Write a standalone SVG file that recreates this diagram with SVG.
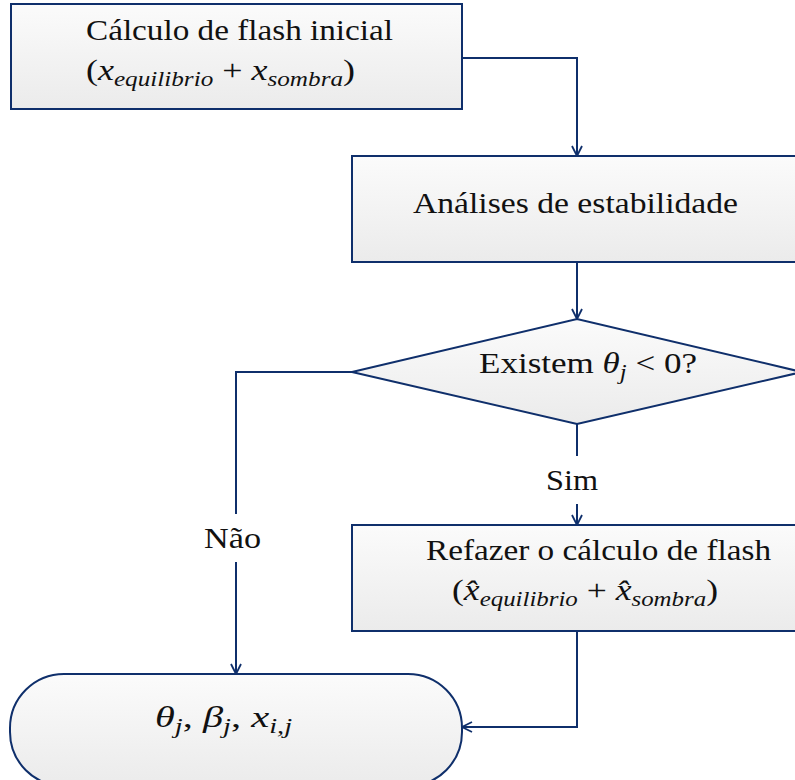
<svg xmlns="http://www.w3.org/2000/svg" width="795" height="780" viewBox="0 0 795 780">
<defs>
<linearGradient id="g" x1="0" y1="0" x2="0" y2="1">
<stop offset="0" stop-color="#fbfbfb"/>
<stop offset="1" stop-color="#ebebeb"/>
</linearGradient>
<marker id="arr" viewBox="0 0 12 12" refX="11" refY="6" markerWidth="12" markerHeight="12" markerUnits="userSpaceOnUse" orient="auto">
<path d="M1,1 L11,6 L1,11" fill="none" stroke="#0f2f6b" stroke-width="1.8"/>
</marker>
</defs>
<style>
.n{fill:url(#g);stroke:#0f2f6b;stroke-width:2}
.c{fill:none;stroke:#0f2f6b;stroke-width:2;marker-end:url(#arr)}
text{font-family:"Liberation Serif","DejaVu Serif",serif;font-size:30px;fill:#111}
.i{font-style:italic}
.s{font-size:21px;font-style:italic}
.lb{fill:#fff}
</style>
<g id="connectors">
<path class="c" d="M462,58 H577 V156"/>
<path class="c" d="M577,262 V319"/>
<path class="c" d="M577,424 V525"/>
<path class="c" d="M352,372 H236 V674"/>
<path class="c" d="M577,631 V727 H462"/>
<rect class="lb" x="543" y="456" width="68" height="48"/>
<text x="546" y="490" textLength="52" lengthAdjust="spacingAndGlyphs">Sim</text>
<rect class="lb" x="196" y="514" width="80" height="48"/>
<text x="204" y="548" textLength="57" lengthAdjust="spacingAndGlyphs">Não</text>
</g>
<g id="flash-inicial">
<rect class="n" x="11" y="4" width="451" height="105"/>
<text x="86" y="40" textLength="307" lengthAdjust="spacingAndGlyphs">Cálculo de flash inicial</text>
<text x="86" y="80" textLength="269" lengthAdjust="spacingAndGlyphs">(<tspan class="i">x</tspan><tspan class="s" dy="6">equilibrio</tspan><tspan dy="-6"> + </tspan><tspan class="i">x</tspan><tspan class="s" dy="6">sombra</tspan><tspan dy="-6">)</tspan></text>
</g>
<g id="estabilidade">
<rect class="n" x="352" y="156" width="450" height="106"/>
<text x="413" y="213" textLength="325" lengthAdjust="spacingAndGlyphs">Análises de estabilidade</text>
</g>
<g id="decisao">
<polygon class="n" points="352,372 577,319 802,372 577,424"/>
<text x="479" y="373" textLength="218" lengthAdjust="spacingAndGlyphs">Existem <tspan class="i">θ</tspan><tspan class="s" dy="6">j</tspan><tspan dy="-6"> &lt; 0?</tspan></text>
</g>
<g id="refazer">
<rect class="n" x="352" y="525" width="450" height="106"/>
<text x="426" y="560" textLength="345" lengthAdjust="spacingAndGlyphs">Refazer o cálculo de flash</text>
<text x="452" y="600" textLength="266" lengthAdjust="spacingAndGlyphs">(<tspan class="i">x̂</tspan><tspan class="s" dy="6">equilibrio</tspan><tspan dy="-6"> + </tspan><tspan class="i">x̂</tspan><tspan class="s" dy="6">sombra</tspan><tspan dy="-6">)</tspan></text>
</g>
<g id="resultado">
<rect class="n" x="10" y="674" width="452" height="112" rx="54" ry="54"/>
<text x="155" y="727" textLength="137" lengthAdjust="spacingAndGlyphs"><tspan class="i">θ</tspan><tspan class="s" dy="6">j</tspan><tspan dy="-6">, </tspan><tspan class="i">β</tspan><tspan class="s" dy="6">j</tspan><tspan dy="-6">, </tspan><tspan class="i">x</tspan><tspan class="s" dy="6">i,j</tspan></text>
</g>
</svg>
